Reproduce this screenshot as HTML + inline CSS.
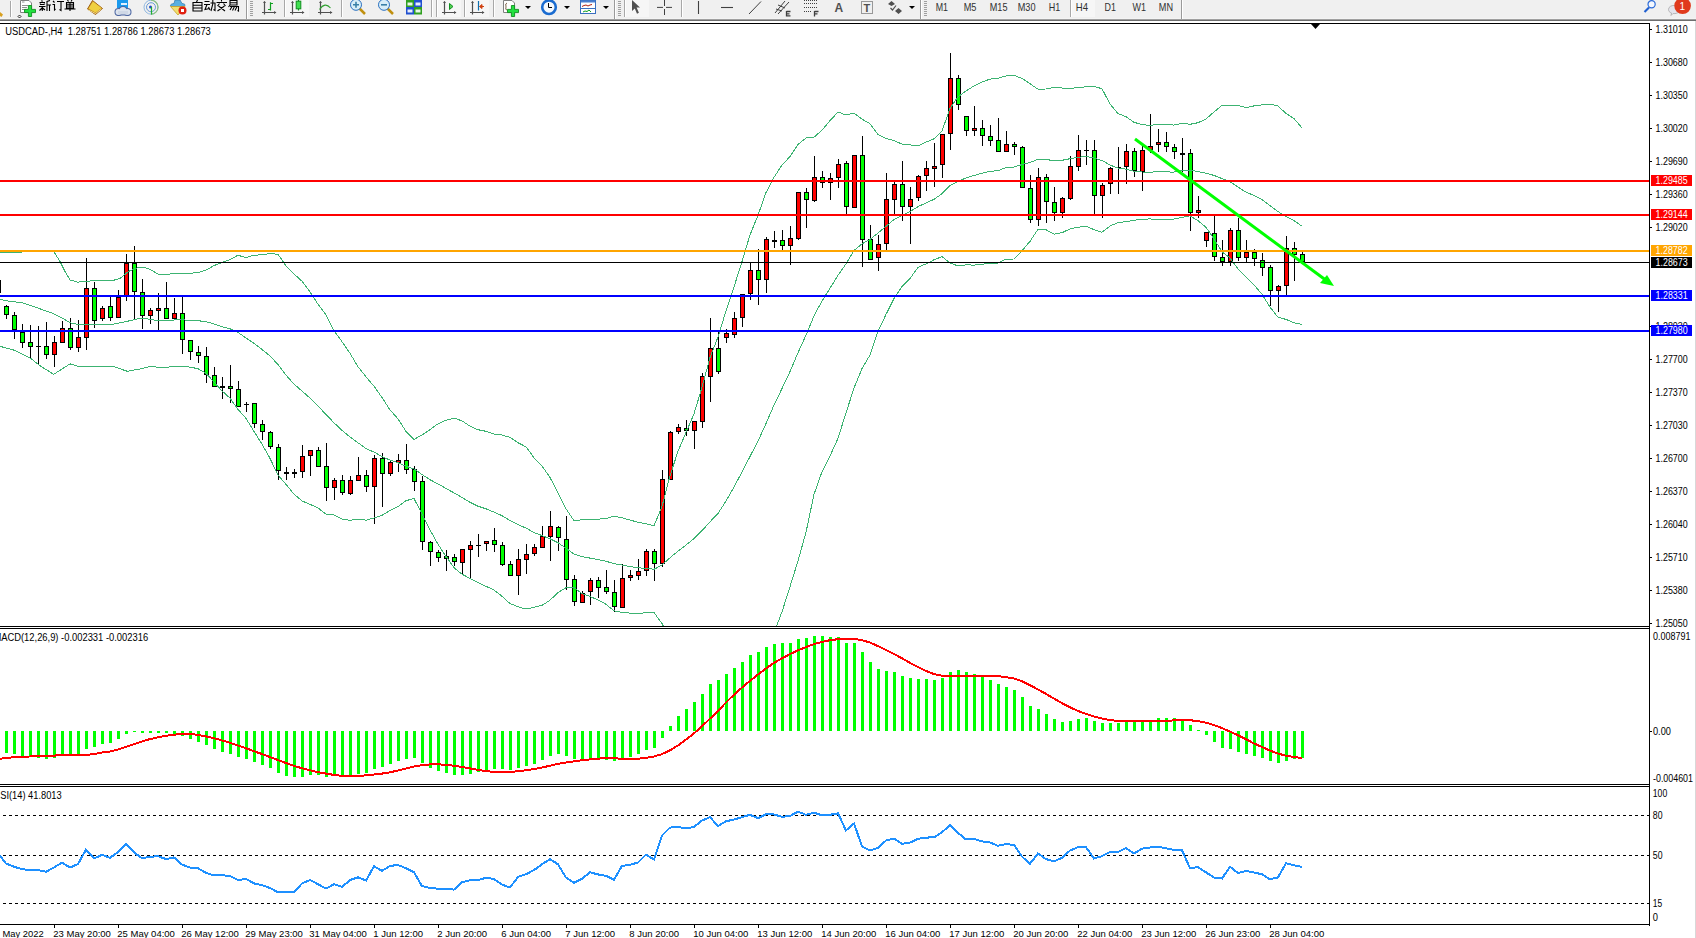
<!DOCTYPE html><html><head><meta charset="utf-8"><style>html,body{margin:0;padding:0;background:#fff;width:1696px;height:938px;overflow:hidden}svg{position:absolute;left:0;top:0;display:block}text{font-family:"Liberation Sans",sans-serif}</style></head><body><svg width="1696" height="938" viewBox="0 0 1696 938"><defs><clipPath id="cm"><rect x="0" y="24" width="1649" height="602"/></clipPath><clipPath id="cd"><rect x="0" y="629" width="1649" height="155"/></clipPath><clipPath id="cr"><rect x="0" y="787" width="1649" height="137"/></clipPath></defs><rect x="0" y="0" width="1696" height="938" fill="#fff"/><rect x="0" y="0" width="1696" height="18" fill="#f0f0f0"/><rect x="0" y="18" width="1696" height="1" fill="#f4f4f4"/><rect x="0" y="19" width="1696" height="1" fill="#a0a0a0"/><rect x="0" y="20" width="1696" height="1" fill="#6e6e6e"/><g id="toolbar"><path d="M0 12L3 14.5L1.5 17L0 16Z" fill="#d8a020"/><rect x="10" y="1" width="1" height="16" fill="#a8a8a8"/><rect x="11" y="1" width="1" height="16" fill="#ffffff"/><path d="M20.5 0.5H29L31.5 3V12.5H20.5Z" fill="#fff" stroke="#808080" stroke-width="1"/><path d="M22 2H24.5M22 5.5H28M22 7.5H27M22 9.5H26" stroke="#909090" stroke-width="1"/><path d="M28.4 5.5H31.6V9.4H35.5V12.6H31.6V16.5H28.4V12.6H24.5V9.4H28.4Z" fill="#22e040" stroke="#10901e" stroke-width="0.9"/><path d="M19.5 15L21 16.5L19.5 18L18 16.5Z" fill="none" stroke="#000" stroke-width="0.8"/><path transform="translate(39,0)" d="M2.5 0.5L3.5 1.5M0.5 2.5H6M1 4.5H5.5M0 6.5H6.5M3.3 6.5V11M3 8L0.5 10.5M3.6 8L6 10M1 3.5L1.5 4.5M5.5 3.5L5 4.5M11 0.5L8 1.5V11M8 5H12M10.5 5V11" stroke="#000" stroke-width="1.1" fill="none"/><path transform="translate(52,0)" d="M1 1L2.5 2.5M0.5 4.5H2.5V10L3.5 9M5 1.5H12M9 1.5V10.5L7.5 9.5" stroke="#000" stroke-width="1.1" fill="none"/><path transform="translate(64,0)" d="M3.5 0L4.5 1.5M8 0L7 1.5M2.5 2.5H9.5V8H2.5Z M2.5 4.2H9.5M2.5 6H9.5M6 2.5V11M0.5 9H11.5" stroke="#000" stroke-width="1.1" fill="none"/><path d="M87.5 9L92.5 0.5L102.5 8.5L95.5 14.5Z" fill="#c89028" stroke="#a06010" stroke-width="1"/><path d="M88.5 8.5L93 1.5L101.5 8L95.5 12.5Z" fill="#f0d040"/><path d="M88.5 10L95.5 13.5L101.5 9" stroke="#f8e8a0" stroke-width="0.8" fill="none"/><rect x="117" y="0" width="11" height="8" fill="#1a9aee"/><rect x="121" y="3" width="6" height="2" fill="#e0f0ff"/><circle cx="118.5" cy="12" r="4" fill="#4a64a0"/><circle cx="123" cy="10.5" r="4.5" fill="#4a64a0"/><circle cx="127.5" cy="12" r="4" fill="#4a64a0"/><rect x="117" y="11" width="12" height="4.5" fill="#4a64a0"/><circle cx="118.5" cy="12" r="3" fill="#dde4ee"/><circle cx="123" cy="10.5" r="3.5" fill="#dde4ee"/><circle cx="127.5" cy="12" r="3" fill="#dde4ee"/><rect x="118" y="11" width="10" height="3.5" fill="#cfd8e6"/><circle cx="151" cy="7.2" r="7" fill="none" stroke="#90b8e0" stroke-width="1"/><circle cx="151" cy="7.2" r="4.5" fill="none" stroke="#6a9ad8" stroke-width="1"/><path d="M151 0.2A7 7 0 0 1 151 14.2" fill="none" stroke="#8cc080" stroke-width="1.2"/><circle cx="150.5" cy="7" r="1.5" fill="#2050c0"/><path d="M151.5 7V14.5" stroke="#20b030" stroke-width="1.2"/><path d="M175 0H180L182 3.5C186 4 186 6 183 6.5H172C169.5 6 170 4 174 3.5Z" fill="#5ab0e0" stroke="#3a80b0" stroke-width="0.8"/><path d="M170.5 6.5H185L178 15Z" fill="#f0e070" stroke="#c8a020" stroke-width="0.8"/><circle cx="182.5" cy="10.5" r="4" fill="#e02010"/><rect x="181" y="9" width="3" height="3" fill="#fff"/><path transform="translate(192,0)" d="M5.5 0L4.5 2M1 2.5H10V11H1Z M1 5.2H10M1 8H10" stroke="#000" stroke-width="1.1" fill="none"/><path transform="translate(204,0)" d="M0.5 1.5H5.5M0 4.5H6M3 4.5L1 9.5L5.5 8.5M4.5 7L6 10M6.5 3H11V10.5L9.5 9.5M8.8 0V4L7 11" stroke="#000" stroke-width="1.1" fill="none"/><path transform="translate(216,0)" d="M5.5 0V1.5M0.5 2.5H11M3.5 3.5L1.5 6M7.5 3.5L9.5 6M2.5 6L9 11M8.5 6L1.5 11" stroke="#000" stroke-width="1.1" fill="none"/><path transform="translate(228,0)" d="M2 0.5H9V5H2Z M2 2.7H9M2 5L0.5 7M2 6.5H10.5V11L9.5 10.5M4 6.5L2 10M6.5 6.5L4.5 10.5M9 6.5L7 10.5" stroke="#000" stroke-width="1.1" fill="none"/><rect x="246" y="0" width="1" height="19" fill="#9a9a9a"/><rect x="247" y="0" width="1" height="19" fill="#ffffff"/><rect x="250" y="1" width="3" height="1" fill="#a0a0a0"/><rect x="250" y="3" width="3" height="1" fill="#a0a0a0"/><rect x="250" y="5" width="3" height="1" fill="#a0a0a0"/><rect x="250" y="7" width="3" height="1" fill="#a0a0a0"/><rect x="250" y="9" width="3" height="1" fill="#a0a0a0"/><rect x="250" y="11" width="3" height="1" fill="#a0a0a0"/><rect x="250" y="13" width="3" height="1" fill="#a0a0a0"/><rect x="250" y="15" width="3" height="1" fill="#a0a0a0"/><path d="M264.5 1.5V14.5M262 12.5H276" stroke="#505050" stroke-width="1.2" fill="none"/><path d="M263 3L264.5 1L266 3Z M274 11L276.5 12.5L274 14Z" fill="#505050"/><path d="M270.5 2.3V10.5M270.5 3.5H273M268 9.5H270.5" stroke="#10a020" stroke-width="1.2" fill="none"/><rect x="284" y="0" width="1" height="17" fill="#a8a8a8"/><rect x="285" y="0" width="1" height="17" fill="#ffffff"/><rect x="286" y="0" width="23" height="17" fill="#f6f6f6"/><path d="M292.5 1.5V14.5M290 12.5H304" stroke="#505050" stroke-width="1.2" fill="none"/><path d="M291 3L292.5 1L294 3Z M302 11L304.5 12.5L302 14Z" fill="#505050"/><path d="M298.5 0V10.5" stroke="#109020" stroke-width="1.2"/><rect x="296.2" y="1.2" width="4.6" height="7.6" fill="#40e050" stroke="#109020" stroke-width="1"/><path d="M320.5 1.5V14.5M318 12.5H332" stroke="#505050" stroke-width="1.2" fill="none"/><path d="M319 3L320.5 1L322 3Z M330 11L332.5 12.5L330 14Z" fill="#505050"/><path d="M319.5 9.5Q325 1.5 330.5 8" stroke="#30a030" stroke-width="1.1" fill="none"/><rect x="341" y="0" width="1" height="17" fill="#a8a8a8"/><rect x="342" y="0" width="1" height="17" fill="#ffffff"/><path d="M359 8L365 14" stroke="#c09010" stroke-width="2.5"/><circle cx="356" cy="4.8" r="5.5" fill="#d8eef8" stroke="#2a70c0" stroke-width="1"/><path d="M353 4.8H359M356 1.8V7.8" stroke="#3a80a8" stroke-width="1.6"/><path d="M387 8L393 14" stroke="#c09010" stroke-width="2.5"/><circle cx="384" cy="4.8" r="5.5" fill="#d8eef8" stroke="#2a70c0" stroke-width="1"/><path d="M381 4.8H387" stroke="#3a80a8" stroke-width="1.6"/><rect x="406" y="0" width="8" height="7.5" fill="#30a020"/><rect x="407.5" y="2.5" width="5" height="3" fill="#fff" opacity="0.9"/><rect x="414" y="0" width="8" height="7.5" fill="#2050d0"/><rect x="415.5" y="2.5" width="5" height="3" fill="#fff" opacity="0.9"/><rect x="406" y="7" width="8" height="7.5" fill="#2050d0"/><rect x="407.5" y="9.5" width="5" height="3" fill="#fff" opacity="0.9"/><rect x="414" y="7" width="8" height="7.5" fill="#30a020"/><rect x="415.5" y="9.5" width="5" height="3" fill="#fff" opacity="0.9"/><rect x="431" y="0" width="1" height="17" fill="#a8a8a8"/><rect x="432" y="0" width="1" height="17" fill="#ffffff"/><rect x="436" y="0" width="1" height="17" fill="#a8a8a8"/><rect x="437" y="0" width="1" height="17" fill="#ffffff"/><rect x="438" y="0" width="23" height="17" fill="#f6f6f6"/><path d="M444.5 1.5V14.5M442 12.5H456" stroke="#505050" stroke-width="1.2" fill="none"/><path d="M443 3L444.5 1L446 3Z M454 11L456.5 12.5L454 14Z" fill="#505050"/><path d="M449.5 3.5L453 6.5L449.5 9.5Z" fill="#50d050" stroke="#109020" stroke-width="1"/><rect x="464" y="0" width="1" height="17" fill="#a8a8a8"/><rect x="465" y="0" width="1" height="17" fill="#ffffff"/><rect x="466" y="0" width="23" height="17" fill="#f6f6f6"/><path d="M472.5 1.5V14.5M470 12.5H484" stroke="#505050" stroke-width="1.2" fill="none"/><path d="M471 3L472.5 1L474 3Z M482 11L484.5 12.5L482 14Z" fill="#505050"/><path d="M478.5 1V10.5" stroke="#1070b0" stroke-width="1.2"/><path d="M479.5 6.5L482 4.5V8.5Z M481 6.5H484" stroke="#d04010" fill="#d04010" stroke-width="1"/><rect x="493" y="0" width="1" height="17" fill="#a8a8a8"/><rect x="494" y="0" width="1" height="17" fill="#ffffff"/><path d="M503.5 0.5H512L514.5 3V12.5H503.5Z" fill="#fff" stroke="#808080" stroke-width="1"/><path d="M507 3Q505 3 506 7Q505 10 507 10" stroke="#604020" stroke-width="0.8" fill="none"/><path d="M511.4 5.5H514.6V9.4H518.5V12.6H514.6V16.5H511.4V12.6H507.5V9.4H511.4Z" fill="#22e040" stroke="#10901e" stroke-width="0.9"/><path d="M525 6H531L528 9Z" fill="#000"/><circle cx="549" cy="7.2" r="6.8" fill="#f4f8fc" stroke="#1a6cd0" stroke-width="2.6"/><path d="M548.5 3V7.5H552" stroke="#000" stroke-width="1" fill="none"/><path d="M564 6H570L567 9Z" fill="#000"/><rect x="580.5" y="0.5" width="15" height="13" fill="#fff" stroke="#3a70c0" stroke-width="1"/><rect x="581" y="0.5" width="14" height="2" fill="#4a80d0"/><rect x="581" y="8" width="14" height="1" fill="#3a70c0"/><path d="M582 6.5L584 5.5L586 5L588 6L590 5L592 4.5" stroke="#b02010" stroke-width="1" fill="none"/><path d="M583 12L585 11L587 11.5L589 10L591 12" stroke="#10a020" stroke-width="1" fill="none"/><path d="M603 6H609L606 9Z" fill="#000"/><rect x="614" y="0" width="1" height="19" fill="#9a9a9a"/><rect x="615" y="0" width="1" height="19" fill="#ffffff"/><rect x="618" y="1" width="3" height="1" fill="#a0a0a0"/><rect x="618" y="3" width="3" height="1" fill="#a0a0a0"/><rect x="618" y="5" width="3" height="1" fill="#a0a0a0"/><rect x="618" y="7" width="3" height="1" fill="#a0a0a0"/><rect x="618" y="9" width="3" height="1" fill="#a0a0a0"/><rect x="618" y="11" width="3" height="1" fill="#a0a0a0"/><rect x="618" y="13" width="3" height="1" fill="#a0a0a0"/><rect x="618" y="15" width="3" height="1" fill="#a0a0a0"/><rect x="624" y="0" width="1" height="17" fill="#a8a8a8"/><rect x="625" y="0" width="1" height="17" fill="#ffffff"/><rect x="626" y="0" width="23" height="17" fill="#f6f6f6"/><path d="M632 0L640 7.4L636.6 7.6L638.9 12.8L637 13.8L634.8 8.6L632 11Z" fill="#505050"/><path d="M657 7.4H663M666 7.4H672M664.5 0V6M664.5 9V15" stroke="#404040" stroke-width="1"/><rect x="681" y="0" width="1" height="17" fill="#a8a8a8"/><rect x="682" y="0" width="1" height="17" fill="#ffffff"/><path d="M698.5 1V14" stroke="#404040" stroke-width="1.1"/><path d="M721 7.5H733" stroke="#404040" stroke-width="1.1"/><path d="M749 14L761 1.5" stroke="#404040" stroke-width="1"/><path d="M775 13L785 1M778 14L789 2M776 9L782 11M778 5L785 8" stroke="#404040" stroke-width="1" fill="none"/><path d="M786.5 11.5H790.5M786.5 11V16.5M786.5 13.8H789.5M786.5 15.8H790.5" stroke="#404040" stroke-width="1.3" fill="none"/><path d="M804 0.5H817M804 3.5H817M804 7.5H817M804 11.5H812" stroke="#404040" stroke-width="1" stroke-dasharray="1,1" fill="none"/><path d="M814.5 11.5H818.5M814.5 11V16.5M814.5 13.8H817.5" stroke="#404040" stroke-width="1.3" fill="none"/><text x="834.5" y="12" font-size="12" font-weight="bold" fill="#505050">A</text><rect x="861.5" y="1.5" width="11" height="12" fill="none" stroke="#404040" stroke-width="1" stroke-dasharray="1,1"/><text x="863.5" y="12" font-size="11" font-weight="bold" fill="#505050">T</text><path d="M888 4L891.5 1L895 4L891.5 6Z M895 11L898.5 8L902 11L898.5 14Z" fill="#505050"/><path d="M890.5 8L892.5 10L896 5.5" stroke="#505050" stroke-width="1.2" fill="none"/><path d="M909 6H915L912 9Z" fill="#000"/><rect x="920" y="0" width="1" height="19" fill="#9a9a9a"/><rect x="921" y="0" width="1" height="19" fill="#ffffff"/><rect x="924" y="1" width="3" height="1" fill="#a0a0a0"/><rect x="924" y="3" width="3" height="1" fill="#a0a0a0"/><rect x="924" y="5" width="3" height="1" fill="#a0a0a0"/><rect x="924" y="7" width="3" height="1" fill="#a0a0a0"/><rect x="924" y="9" width="3" height="1" fill="#a0a0a0"/><rect x="924" y="11" width="3" height="1" fill="#a0a0a0"/><rect x="924" y="13" width="3" height="1" fill="#a0a0a0"/><rect x="924" y="15" width="3" height="1" fill="#a0a0a0"/><text x="935.7" y="11.2" font-size="10.2" fill="#303030" textLength="12.3" lengthAdjust="spacingAndGlyphs">M1</text><text x="963.7" y="11.2" font-size="10.2" fill="#303030" textLength="12.8" lengthAdjust="spacingAndGlyphs">M5</text><text x="989.8" y="11.2" font-size="10.2" fill="#303030" textLength="17.7" lengthAdjust="spacingAndGlyphs">M15</text><text x="1017.7" y="11.2" font-size="10.2" fill="#303030" textLength="17.8" lengthAdjust="spacingAndGlyphs">M30</text><text x="1048.8" y="11.2" font-size="10.2" fill="#303030" textLength="11.5" lengthAdjust="spacingAndGlyphs">H1</text><rect x="1070" y="0" width="1" height="17" fill="#a8a8a8"/><rect x="1071" y="0" width="1" height="17" fill="#ffffff"/><rect x="1072" y="0" width="23" height="17" fill="#f6f6f6"/><text x="1075.8" y="11.2" font-size="10.2" fill="#303030" textLength="12.2" lengthAdjust="spacingAndGlyphs">H4</text><text x="1104.6" y="11.2" font-size="10.2" fill="#303030" textLength="11.4" lengthAdjust="spacingAndGlyphs">D1</text><text x="1132.5" y="11.2" font-size="10.2" fill="#303030" textLength="13.5" lengthAdjust="spacingAndGlyphs">W1</text><text x="1158.8" y="11.2" font-size="10.2" fill="#303030" textLength="14.2" lengthAdjust="spacingAndGlyphs">MN</text><rect x="1181" y="0" width="1" height="19" fill="#9a9a9a"/><rect x="1182" y="0" width="1" height="19" fill="#ffffff"/><path d="M1649 7.5L1644.5 12" stroke="#2060d0" stroke-width="2.2"/><circle cx="1651.6" cy="4.3" r="3.6" fill="#f4f8ff" stroke="#2a6ad8" stroke-width="1.2"/><path d="M1668.5 9.5C1668.5 4 1680 4 1680 9.5C1680 13 1675 14 1673 13.5L1671 15.5L1671.5 13C1669.5 12.5 1668.5 11 1668.5 9.5Z" fill="#e4e4ec" stroke="#a8a8a8" stroke-width="0.8"/><circle cx="1682.6" cy="5.8" r="8.3" fill="#e03a1c"/><text x="1679.5" y="10" font-size="10" font-family="Liberation Serif" fill="#fff">1</text></g><rect x="0" y="23" width="1650" height="1" fill="#000"/><rect x="1649" y="23" width="1" height="903" fill="#000"/><rect x="0" y="626" width="1650" height="1" fill="#000"/><rect x="0" y="628" width="1650" height="1" fill="#000"/><rect x="0" y="784" width="1650" height="1" fill="#000"/><rect x="0" y="786" width="1650" height="1" fill="#000"/><rect x="0" y="924" width="1650" height="1" fill="#000"/><rect x="1695" y="21" width="1" height="917" fill="#d8d8d8"/><g shape-rendering="crispEdges"><rect x="-2" y="276" width="1" height="20" fill="#000"/><rect x="-4" y="280" width="5" height="13" fill="#000"/><rect x="-3" y="281" width="3" height="11" fill="#00ff00"/><rect x="6" y="305" width="1" height="14" fill="#000"/><rect x="4" y="306" width="5" height="9" fill="#000"/><rect x="5" y="307" width="3" height="7" fill="#00ff00"/><rect x="14" y="312" width="1" height="27" fill="#000"/><rect x="12" y="315" width="5" height="15" fill="#000"/><rect x="13" y="316" width="3" height="13" fill="#00ff00"/><rect x="22" y="324" width="1" height="24" fill="#000"/><rect x="20" y="332" width="5" height="11" fill="#000"/><rect x="21" y="333" width="3" height="9" fill="#00ff00"/><rect x="30" y="325" width="1" height="33" fill="#000"/><rect x="28" y="342" width="5" height="5" fill="#000"/><rect x="29" y="343" width="3" height="3" fill="#00ff00"/><rect x="38" y="326" width="1" height="38" fill="#000"/><rect x="36" y="346" width="5" height="1" fill="#000"/><rect x="46" y="322" width="1" height="37" fill="#000"/><rect x="44" y="346" width="5" height="9" fill="#000"/><rect x="45" y="347" width="3" height="7" fill="#00ff00"/><rect x="54" y="336" width="1" height="31" fill="#000"/><rect x="52" y="342" width="5" height="13" fill="#000"/><rect x="53" y="343" width="3" height="11" fill="#ff0000"/><rect x="62" y="321" width="1" height="22" fill="#000"/><rect x="60" y="328" width="5" height="15" fill="#000"/><rect x="61" y="329" width="3" height="13" fill="#ff0000"/><rect x="70" y="318" width="1" height="32" fill="#000"/><rect x="68" y="328" width="5" height="20" fill="#000"/><rect x="69" y="329" width="3" height="18" fill="#00ff00"/><rect x="78" y="320" width="1" height="32" fill="#000"/><rect x="76" y="337" width="5" height="11" fill="#000"/><rect x="77" y="338" width="3" height="9" fill="#ff0000"/><rect x="86" y="258" width="1" height="92" fill="#000"/><rect x="84" y="288" width="5" height="50" fill="#000"/><rect x="85" y="289" width="3" height="48" fill="#ff0000"/><rect x="94" y="282" width="1" height="46" fill="#000"/><rect x="92" y="288" width="5" height="33" fill="#000"/><rect x="93" y="289" width="3" height="31" fill="#00ff00"/><rect x="102" y="306" width="1" height="15" fill="#000"/><rect x="100" y="308" width="5" height="11" fill="#000"/><rect x="101" y="309" width="3" height="9" fill="#ff0000"/><rect x="110" y="297" width="1" height="24" fill="#000"/><rect x="108" y="306" width="5" height="12" fill="#000"/><rect x="109" y="307" width="3" height="10" fill="#00ff00"/><rect x="118" y="290" width="1" height="28" fill="#000"/><rect x="116" y="297" width="5" height="21" fill="#000"/><rect x="117" y="298" width="3" height="19" fill="#ff0000"/><rect x="126" y="254" width="1" height="47" fill="#000"/><rect x="124" y="263" width="5" height="34" fill="#000"/><rect x="125" y="264" width="3" height="32" fill="#ff0000"/><rect x="134" y="246" width="1" height="73" fill="#000"/><rect x="132" y="263" width="5" height="29" fill="#000"/><rect x="133" y="264" width="3" height="27" fill="#00ff00"/><rect x="142" y="279" width="1" height="50" fill="#000"/><rect x="140" y="292" width="5" height="24" fill="#000"/><rect x="141" y="293" width="3" height="22" fill="#00ff00"/><rect x="150" y="308" width="1" height="16" fill="#000"/><rect x="148" y="310" width="5" height="6" fill="#000"/><rect x="149" y="311" width="3" height="4" fill="#ff0000"/><rect x="158" y="293" width="1" height="37" fill="#000"/><rect x="156" y="308" width="5" height="3" fill="#000"/><rect x="157" y="309" width="3" height="1" fill="#ff0000"/><rect x="166" y="282" width="1" height="37" fill="#000"/><rect x="164" y="308" width="5" height="11" fill="#000"/><rect x="165" y="309" width="3" height="9" fill="#00ff00"/><rect x="174" y="298" width="1" height="21" fill="#000"/><rect x="172" y="313" width="5" height="6" fill="#000"/><rect x="173" y="314" width="3" height="4" fill="#ff0000"/><rect x="182" y="297" width="1" height="57" fill="#000"/><rect x="180" y="313" width="5" height="27" fill="#000"/><rect x="181" y="314" width="3" height="25" fill="#00ff00"/><rect x="190" y="340" width="1" height="20" fill="#000"/><rect x="188" y="340" width="5" height="12" fill="#000"/><rect x="189" y="341" width="3" height="10" fill="#00ff00"/><rect x="198" y="346" width="1" height="17" fill="#000"/><rect x="196" y="352" width="5" height="4" fill="#000"/><rect x="197" y="353" width="3" height="2" fill="#00ff00"/><rect x="206" y="347" width="1" height="36" fill="#000"/><rect x="204" y="356" width="5" height="19" fill="#000"/><rect x="205" y="357" width="3" height="17" fill="#00ff00"/><rect x="214" y="367" width="1" height="20" fill="#000"/><rect x="212" y="375" width="5" height="12" fill="#000"/><rect x="213" y="376" width="3" height="10" fill="#00ff00"/><rect x="222" y="377" width="1" height="22" fill="#000"/><rect x="220" y="386" width="5" height="2" fill="#000"/><rect x="230" y="365" width="1" height="38" fill="#000"/><rect x="228" y="386" width="5" height="3" fill="#000"/><rect x="229" y="387" width="3" height="1" fill="#00ff00"/><rect x="238" y="381" width="1" height="26" fill="#000"/><rect x="236" y="389" width="5" height="18" fill="#000"/><rect x="237" y="390" width="3" height="16" fill="#00ff00"/><rect x="246" y="402" width="1" height="10" fill="#000"/><rect x="244" y="404" width="5" height="1" fill="#000"/><rect x="254" y="403" width="1" height="25" fill="#000"/><rect x="252" y="403" width="5" height="21" fill="#000"/><rect x="253" y="404" width="3" height="19" fill="#00ff00"/><rect x="262" y="420" width="1" height="20" fill="#000"/><rect x="260" y="424" width="5" height="8" fill="#000"/><rect x="261" y="425" width="3" height="6" fill="#00ff00"/><rect x="270" y="431" width="1" height="18" fill="#000"/><rect x="268" y="432" width="5" height="15" fill="#000"/><rect x="269" y="433" width="3" height="13" fill="#00ff00"/><rect x="278" y="444" width="1" height="36" fill="#000"/><rect x="276" y="447" width="5" height="24" fill="#000"/><rect x="277" y="448" width="3" height="22" fill="#00ff00"/><rect x="286" y="467" width="1" height="13" fill="#000"/><rect x="284" y="472" width="5" height="2" fill="#000"/><rect x="294" y="469" width="1" height="9" fill="#000"/><rect x="292" y="472" width="5" height="2" fill="#000"/><rect x="302" y="445" width="1" height="33" fill="#000"/><rect x="300" y="456" width="5" height="16" fill="#000"/><rect x="301" y="457" width="3" height="14" fill="#ff0000"/><rect x="310" y="450" width="1" height="26" fill="#000"/><rect x="308" y="450" width="5" height="6" fill="#000"/><rect x="309" y="451" width="3" height="4" fill="#ff0000"/><rect x="318" y="447" width="1" height="20" fill="#000"/><rect x="316" y="450" width="5" height="17" fill="#000"/><rect x="317" y="451" width="3" height="15" fill="#00ff00"/><rect x="326" y="443" width="1" height="58" fill="#000"/><rect x="324" y="466" width="5" height="22" fill="#000"/><rect x="325" y="467" width="3" height="20" fill="#00ff00"/><rect x="334" y="478" width="1" height="22" fill="#000"/><rect x="332" y="480" width="5" height="8" fill="#000"/><rect x="333" y="481" width="3" height="6" fill="#ff0000"/><rect x="342" y="475" width="1" height="20" fill="#000"/><rect x="340" y="480" width="5" height="13" fill="#000"/><rect x="341" y="481" width="3" height="11" fill="#00ff00"/><rect x="350" y="476" width="1" height="19" fill="#000"/><rect x="348" y="480" width="5" height="14" fill="#000"/><rect x="349" y="481" width="3" height="12" fill="#ff0000"/><rect x="358" y="457" width="1" height="24" fill="#000"/><rect x="356" y="475" width="5" height="6" fill="#000"/><rect x="357" y="476" width="3" height="4" fill="#ff0000"/><rect x="366" y="470" width="1" height="22" fill="#000"/><rect x="364" y="475" width="5" height="12" fill="#000"/><rect x="365" y="476" width="3" height="10" fill="#00ff00"/><rect x="374" y="455" width="1" height="69" fill="#000"/><rect x="372" y="458" width="5" height="29" fill="#000"/><rect x="373" y="459" width="3" height="27" fill="#ff0000"/><rect x="382" y="453" width="1" height="54" fill="#000"/><rect x="380" y="458" width="5" height="16" fill="#000"/><rect x="381" y="459" width="3" height="14" fill="#00ff00"/><rect x="390" y="461" width="1" height="15" fill="#000"/><rect x="388" y="462" width="5" height="12" fill="#000"/><rect x="389" y="463" width="3" height="10" fill="#ff0000"/><rect x="398" y="454" width="1" height="18" fill="#000"/><rect x="396" y="460" width="5" height="3" fill="#000"/><rect x="397" y="461" width="3" height="1" fill="#ff0000"/><rect x="406" y="444" width="1" height="30" fill="#000"/><rect x="404" y="460" width="5" height="10" fill="#000"/><rect x="405" y="461" width="3" height="8" fill="#00ff00"/><rect x="414" y="466" width="1" height="25" fill="#000"/><rect x="412" y="469" width="5" height="13" fill="#000"/><rect x="413" y="470" width="3" height="11" fill="#00ff00"/><rect x="422" y="476" width="1" height="74" fill="#000"/><rect x="420" y="481" width="5" height="61" fill="#000"/><rect x="421" y="482" width="3" height="59" fill="#00ff00"/><rect x="430" y="541" width="1" height="25" fill="#000"/><rect x="428" y="542" width="5" height="10" fill="#000"/><rect x="429" y="543" width="3" height="8" fill="#00ff00"/><rect x="438" y="550" width="1" height="12" fill="#000"/><rect x="436" y="552" width="5" height="6" fill="#000"/><rect x="437" y="553" width="3" height="4" fill="#00ff00"/><rect x="446" y="550" width="1" height="21" fill="#000"/><rect x="444" y="556" width="5" height="3" fill="#000"/><rect x="445" y="557" width="3" height="1" fill="#00ff00"/><rect x="454" y="554" width="1" height="12" fill="#000"/><rect x="452" y="557" width="5" height="5" fill="#000"/><rect x="453" y="558" width="3" height="3" fill="#00ff00"/><rect x="462" y="549" width="1" height="25" fill="#000"/><rect x="460" y="549" width="5" height="14" fill="#000"/><rect x="461" y="550" width="3" height="12" fill="#ff0000"/><rect x="470" y="541" width="1" height="37" fill="#000"/><rect x="468" y="545" width="5" height="5" fill="#000"/><rect x="469" y="546" width="3" height="3" fill="#ff0000"/><rect x="478" y="534" width="1" height="23" fill="#000"/><rect x="476" y="545" width="5" height="1" fill="#000"/><rect x="486" y="541" width="1" height="10" fill="#000"/><rect x="484" y="541" width="5" height="3" fill="#000"/><rect x="485" y="542" width="3" height="1" fill="#ff0000"/><rect x="494" y="528" width="1" height="24" fill="#000"/><rect x="492" y="540" width="5" height="5" fill="#000"/><rect x="493" y="541" width="3" height="3" fill="#00ff00"/><rect x="502" y="542" width="1" height="24" fill="#000"/><rect x="500" y="545" width="5" height="20" fill="#000"/><rect x="501" y="546" width="3" height="18" fill="#00ff00"/><rect x="510" y="561" width="1" height="15" fill="#000"/><rect x="508" y="564" width="5" height="12" fill="#000"/><rect x="509" y="565" width="3" height="10" fill="#00ff00"/><rect x="518" y="549" width="1" height="46" fill="#000"/><rect x="516" y="559" width="5" height="17" fill="#000"/><rect x="517" y="560" width="3" height="15" fill="#ff0000"/><rect x="526" y="544" width="1" height="30" fill="#000"/><rect x="524" y="554" width="5" height="6" fill="#000"/><rect x="525" y="555" width="3" height="4" fill="#ff0000"/><rect x="534" y="544" width="1" height="12" fill="#000"/><rect x="532" y="547" width="5" height="7" fill="#000"/><rect x="533" y="548" width="3" height="5" fill="#ff0000"/><rect x="542" y="526" width="1" height="22" fill="#000"/><rect x="540" y="536" width="5" height="12" fill="#000"/><rect x="541" y="537" width="3" height="10" fill="#ff0000"/><rect x="550" y="511" width="1" height="50" fill="#000"/><rect x="548" y="526" width="5" height="11" fill="#000"/><rect x="549" y="527" width="3" height="9" fill="#ff0000"/><rect x="558" y="526" width="1" height="25" fill="#000"/><rect x="556" y="527" width="5" height="11" fill="#000"/><rect x="557" y="528" width="3" height="9" fill="#00ff00"/><rect x="566" y="516" width="1" height="74" fill="#000"/><rect x="564" y="539" width="5" height="41" fill="#000"/><rect x="565" y="540" width="3" height="39" fill="#00ff00"/><rect x="574" y="575" width="1" height="31" fill="#000"/><rect x="572" y="579" width="5" height="23" fill="#000"/><rect x="573" y="580" width="3" height="21" fill="#00ff00"/><rect x="582" y="591" width="1" height="12" fill="#000"/><rect x="580" y="593" width="5" height="10" fill="#000"/><rect x="581" y="594" width="3" height="8" fill="#ff0000"/><rect x="590" y="578" width="1" height="27" fill="#000"/><rect x="588" y="580" width="5" height="12" fill="#000"/><rect x="589" y="581" width="3" height="10" fill="#ff0000"/><rect x="598" y="577" width="1" height="21" fill="#000"/><rect x="596" y="580" width="5" height="8" fill="#000"/><rect x="597" y="581" width="3" height="6" fill="#00ff00"/><rect x="606" y="570" width="1" height="24" fill="#000"/><rect x="604" y="587" width="5" height="5" fill="#000"/><rect x="605" y="588" width="3" height="3" fill="#00ff00"/><rect x="614" y="580" width="1" height="32" fill="#000"/><rect x="612" y="592" width="5" height="15" fill="#000"/><rect x="613" y="593" width="3" height="13" fill="#00ff00"/><rect x="622" y="564" width="1" height="44" fill="#000"/><rect x="620" y="578" width="5" height="30" fill="#000"/><rect x="621" y="579" width="3" height="28" fill="#ff0000"/><rect x="630" y="570" width="1" height="11" fill="#000"/><rect x="628" y="575" width="5" height="3" fill="#000"/><rect x="629" y="576" width="3" height="1" fill="#ff0000"/><rect x="638" y="559" width="1" height="21" fill="#000"/><rect x="636" y="571" width="5" height="5" fill="#000"/><rect x="637" y="572" width="3" height="3" fill="#ff0000"/><rect x="646" y="549" width="1" height="27" fill="#000"/><rect x="644" y="551" width="5" height="20" fill="#000"/><rect x="645" y="552" width="3" height="18" fill="#ff0000"/><rect x="654" y="549" width="1" height="32" fill="#000"/><rect x="652" y="551" width="5" height="13" fill="#000"/><rect x="653" y="552" width="3" height="11" fill="#00ff00"/><rect x="662" y="470" width="1" height="97" fill="#000"/><rect x="660" y="479" width="5" height="85" fill="#000"/><rect x="661" y="480" width="3" height="83" fill="#ff0000"/><rect x="670" y="431" width="1" height="49" fill="#000"/><rect x="668" y="432" width="5" height="48" fill="#000"/><rect x="669" y="433" width="3" height="46" fill="#ff0000"/><rect x="678" y="424" width="1" height="10" fill="#000"/><rect x="676" y="427" width="5" height="5" fill="#000"/><rect x="677" y="428" width="3" height="3" fill="#ff0000"/><rect x="686" y="420" width="1" height="16" fill="#000"/><rect x="684" y="428" width="5" height="3" fill="#000"/><rect x="685" y="429" width="3" height="1" fill="#00ff00"/><rect x="694" y="421" width="1" height="28" fill="#000"/><rect x="692" y="421" width="5" height="10" fill="#000"/><rect x="693" y="422" width="3" height="8" fill="#ff0000"/><rect x="702" y="373" width="1" height="55" fill="#000"/><rect x="700" y="376" width="5" height="46" fill="#000"/><rect x="701" y="377" width="3" height="44" fill="#ff0000"/><rect x="710" y="318" width="1" height="84" fill="#000"/><rect x="708" y="348" width="5" height="29" fill="#000"/><rect x="709" y="349" width="3" height="27" fill="#ff0000"/><rect x="718" y="332" width="1" height="42" fill="#000"/><rect x="716" y="348" width="5" height="24" fill="#000"/><rect x="717" y="349" width="3" height="22" fill="#00ff00"/><rect x="726" y="329" width="1" height="14" fill="#000"/><rect x="724" y="333" width="5" height="5" fill="#000"/><rect x="725" y="334" width="3" height="3" fill="#ff0000"/><rect x="734" y="312" width="1" height="26" fill="#000"/><rect x="732" y="318" width="5" height="17" fill="#000"/><rect x="733" y="319" width="3" height="15" fill="#ff0000"/><rect x="742" y="294" width="1" height="33" fill="#000"/><rect x="740" y="294" width="5" height="24" fill="#000"/><rect x="741" y="295" width="3" height="22" fill="#ff0000"/><rect x="750" y="263" width="1" height="37" fill="#000"/><rect x="748" y="270" width="5" height="24" fill="#000"/><rect x="749" y="271" width="3" height="22" fill="#ff0000"/><rect x="758" y="249" width="1" height="56" fill="#000"/><rect x="756" y="270" width="5" height="10" fill="#000"/><rect x="757" y="271" width="3" height="8" fill="#00ff00"/><rect x="766" y="237" width="1" height="56" fill="#000"/><rect x="764" y="239" width="5" height="41" fill="#000"/><rect x="765" y="240" width="3" height="39" fill="#ff0000"/><rect x="774" y="231" width="1" height="17" fill="#000"/><rect x="772" y="240" width="5" height="2" fill="#000"/><rect x="782" y="230" width="1" height="20" fill="#000"/><rect x="780" y="240" width="5" height="6" fill="#000"/><rect x="781" y="241" width="3" height="4" fill="#00ff00"/><rect x="790" y="226" width="1" height="39" fill="#000"/><rect x="788" y="238" width="5" height="8" fill="#000"/><rect x="789" y="239" width="3" height="6" fill="#ff0000"/><rect x="798" y="192" width="1" height="48" fill="#000"/><rect x="796" y="192" width="5" height="47" fill="#000"/><rect x="797" y="193" width="3" height="45" fill="#ff0000"/><rect x="806" y="188" width="1" height="40" fill="#000"/><rect x="804" y="192" width="5" height="8" fill="#000"/><rect x="805" y="193" width="3" height="6" fill="#00ff00"/><rect x="814" y="156" width="1" height="46" fill="#000"/><rect x="812" y="177" width="5" height="24" fill="#000"/><rect x="813" y="178" width="3" height="22" fill="#ff0000"/><rect x="822" y="171" width="1" height="17" fill="#000"/><rect x="820" y="177" width="5" height="6" fill="#000"/><rect x="821" y="178" width="3" height="4" fill="#00ff00"/><rect x="830" y="173" width="1" height="27" fill="#000"/><rect x="828" y="178" width="5" height="5" fill="#000"/><rect x="829" y="179" width="3" height="3" fill="#ff0000"/><rect x="838" y="159" width="1" height="29" fill="#000"/><rect x="836" y="164" width="5" height="14" fill="#000"/><rect x="837" y="165" width="3" height="12" fill="#ff0000"/><rect x="846" y="161" width="1" height="53" fill="#000"/><rect x="844" y="163" width="5" height="44" fill="#000"/><rect x="845" y="164" width="3" height="42" fill="#00ff00"/><rect x="854" y="155" width="1" height="53" fill="#000"/><rect x="852" y="155" width="5" height="53" fill="#000"/><rect x="853" y="156" width="3" height="51" fill="#ff0000"/><rect x="862" y="136" width="1" height="131" fill="#000"/><rect x="860" y="155" width="5" height="85" fill="#000"/><rect x="861" y="156" width="3" height="83" fill="#00ff00"/><rect x="870" y="225" width="1" height="35" fill="#000"/><rect x="868" y="239" width="5" height="21" fill="#000"/><rect x="869" y="240" width="3" height="19" fill="#00ff00"/><rect x="878" y="235" width="1" height="36" fill="#000"/><rect x="876" y="244" width="5" height="14" fill="#000"/><rect x="877" y="245" width="3" height="12" fill="#ff0000"/><rect x="886" y="173" width="1" height="77" fill="#000"/><rect x="884" y="199" width="5" height="45" fill="#000"/><rect x="885" y="200" width="3" height="43" fill="#ff0000"/><rect x="894" y="182" width="1" height="32" fill="#000"/><rect x="892" y="184" width="5" height="16" fill="#000"/><rect x="893" y="185" width="3" height="14" fill="#ff0000"/><rect x="902" y="161" width="1" height="60" fill="#000"/><rect x="900" y="184" width="5" height="23" fill="#000"/><rect x="901" y="185" width="3" height="21" fill="#00ff00"/><rect x="910" y="187" width="1" height="57" fill="#000"/><rect x="908" y="199" width="5" height="8" fill="#000"/><rect x="909" y="200" width="3" height="6" fill="#ff0000"/><rect x="918" y="175" width="1" height="26" fill="#000"/><rect x="916" y="176" width="5" height="22" fill="#000"/><rect x="917" y="177" width="3" height="20" fill="#ff0000"/><rect x="926" y="161" width="1" height="30" fill="#000"/><rect x="924" y="168" width="5" height="8" fill="#000"/><rect x="925" y="169" width="3" height="6" fill="#ff0000"/><rect x="934" y="143" width="1" height="44" fill="#000"/><rect x="932" y="166" width="5" height="3" fill="#000"/><rect x="933" y="167" width="3" height="1" fill="#ff0000"/><rect x="942" y="134" width="1" height="44" fill="#000"/><rect x="940" y="134" width="5" height="31" fill="#000"/><rect x="941" y="135" width="3" height="29" fill="#ff0000"/><rect x="950" y="53" width="1" height="97" fill="#000"/><rect x="948" y="78" width="5" height="56" fill="#000"/><rect x="949" y="79" width="3" height="54" fill="#ff0000"/><rect x="958" y="75" width="1" height="35" fill="#000"/><rect x="956" y="78" width="5" height="27" fill="#000"/><rect x="957" y="79" width="3" height="25" fill="#00ff00"/><rect x="966" y="116" width="1" height="20" fill="#000"/><rect x="964" y="116" width="5" height="15" fill="#000"/><rect x="965" y="117" width="3" height="13" fill="#00ff00"/><rect x="974" y="106" width="1" height="30" fill="#000"/><rect x="972" y="128" width="5" height="3" fill="#000"/><rect x="973" y="129" width="3" height="1" fill="#ff0000"/><rect x="982" y="120" width="1" height="26" fill="#000"/><rect x="980" y="128" width="5" height="8" fill="#000"/><rect x="981" y="129" width="3" height="6" fill="#00ff00"/><rect x="990" y="125" width="1" height="21" fill="#000"/><rect x="988" y="136" width="5" height="5" fill="#000"/><rect x="989" y="137" width="3" height="3" fill="#00ff00"/><rect x="998" y="118" width="1" height="34" fill="#000"/><rect x="996" y="140" width="5" height="12" fill="#000"/><rect x="997" y="141" width="3" height="10" fill="#00ff00"/><rect x="1006" y="131" width="1" height="21" fill="#000"/><rect x="1004" y="144" width="5" height="8" fill="#000"/><rect x="1005" y="145" width="3" height="6" fill="#ff0000"/><rect x="1014" y="142" width="1" height="13" fill="#000"/><rect x="1012" y="144" width="5" height="3" fill="#000"/><rect x="1013" y="145" width="3" height="1" fill="#00ff00"/><rect x="1022" y="146" width="1" height="42" fill="#000"/><rect x="1020" y="147" width="5" height="41" fill="#000"/><rect x="1021" y="148" width="3" height="39" fill="#00ff00"/><rect x="1030" y="175" width="1" height="48" fill="#000"/><rect x="1028" y="188" width="5" height="32" fill="#000"/><rect x="1029" y="189" width="3" height="30" fill="#00ff00"/><rect x="1038" y="168" width="1" height="58" fill="#000"/><rect x="1036" y="177" width="5" height="43" fill="#000"/><rect x="1037" y="178" width="3" height="41" fill="#ff0000"/><rect x="1046" y="174" width="1" height="49" fill="#000"/><rect x="1044" y="177" width="5" height="25" fill="#000"/><rect x="1045" y="178" width="3" height="23" fill="#00ff00"/><rect x="1054" y="187" width="1" height="34" fill="#000"/><rect x="1052" y="202" width="5" height="11" fill="#000"/><rect x="1053" y="203" width="3" height="9" fill="#00ff00"/><rect x="1062" y="197" width="1" height="21" fill="#000"/><rect x="1060" y="198" width="5" height="15" fill="#000"/><rect x="1061" y="199" width="3" height="13" fill="#ff0000"/><rect x="1070" y="156" width="1" height="44" fill="#000"/><rect x="1068" y="166" width="5" height="33" fill="#000"/><rect x="1069" y="167" width="3" height="31" fill="#ff0000"/><rect x="1078" y="135" width="1" height="36" fill="#000"/><rect x="1076" y="150" width="5" height="17" fill="#000"/><rect x="1077" y="151" width="3" height="15" fill="#ff0000"/><rect x="1086" y="140" width="1" height="25" fill="#000"/><rect x="1084" y="150" width="5" height="1" fill="#000"/><rect x="1094" y="140" width="1" height="74" fill="#000"/><rect x="1092" y="150" width="5" height="46" fill="#000"/><rect x="1093" y="151" width="3" height="44" fill="#00ff00"/><rect x="1102" y="183" width="1" height="35" fill="#000"/><rect x="1100" y="185" width="5" height="11" fill="#000"/><rect x="1101" y="186" width="3" height="9" fill="#ff0000"/><rect x="1110" y="167" width="1" height="27" fill="#000"/><rect x="1108" y="168" width="5" height="16" fill="#000"/><rect x="1109" y="169" width="3" height="14" fill="#ff0000"/><rect x="1118" y="147" width="1" height="47" fill="#000"/><rect x="1116" y="167" width="5" height="1" fill="#000"/><rect x="1126" y="144" width="1" height="40" fill="#000"/><rect x="1124" y="151" width="5" height="16" fill="#000"/><rect x="1125" y="152" width="3" height="14" fill="#ff0000"/><rect x="1134" y="148" width="1" height="29" fill="#000"/><rect x="1132" y="151" width="5" height="20" fill="#000"/><rect x="1133" y="152" width="3" height="18" fill="#00ff00"/><rect x="1142" y="146" width="1" height="45" fill="#000"/><rect x="1140" y="150" width="5" height="22" fill="#000"/><rect x="1141" y="151" width="3" height="20" fill="#ff0000"/><rect x="1150" y="114" width="1" height="39" fill="#000"/><rect x="1148" y="146" width="5" height="4" fill="#000"/><rect x="1149" y="147" width="3" height="2" fill="#ff0000"/><rect x="1158" y="129" width="1" height="23" fill="#000"/><rect x="1156" y="142" width="5" height="3" fill="#000"/><rect x="1157" y="143" width="3" height="1" fill="#ff0000"/><rect x="1166" y="132" width="1" height="20" fill="#000"/><rect x="1164" y="142" width="5" height="5" fill="#000"/><rect x="1165" y="143" width="3" height="3" fill="#00ff00"/><rect x="1174" y="144" width="1" height="15" fill="#000"/><rect x="1172" y="147" width="5" height="5" fill="#000"/><rect x="1173" y="148" width="3" height="3" fill="#00ff00"/><rect x="1182" y="138" width="1" height="34" fill="#000"/><rect x="1180" y="153" width="5" height="2" fill="#000"/><rect x="1190" y="149" width="1" height="82" fill="#000"/><rect x="1188" y="153" width="5" height="60" fill="#000"/><rect x="1189" y="154" width="3" height="58" fill="#00ff00"/><rect x="1198" y="196" width="1" height="22" fill="#000"/><rect x="1196" y="210" width="5" height="3" fill="#000"/><rect x="1197" y="211" width="3" height="1" fill="#ff0000"/><rect x="1206" y="232" width="1" height="15" fill="#000"/><rect x="1204" y="232" width="5" height="9" fill="#000"/><rect x="1205" y="233" width="3" height="7" fill="#ff0000"/><rect x="1214" y="216" width="1" height="45" fill="#000"/><rect x="1212" y="233" width="5" height="24" fill="#000"/><rect x="1213" y="234" width="3" height="22" fill="#00ff00"/><rect x="1222" y="240" width="1" height="26" fill="#000"/><rect x="1220" y="257" width="5" height="5" fill="#000"/><rect x="1221" y="258" width="3" height="3" fill="#00ff00"/><rect x="1230" y="228" width="1" height="38" fill="#000"/><rect x="1228" y="230" width="5" height="32" fill="#000"/><rect x="1229" y="231" width="3" height="30" fill="#ff0000"/><rect x="1238" y="218" width="1" height="43" fill="#000"/><rect x="1236" y="230" width="5" height="28" fill="#000"/><rect x="1237" y="231" width="3" height="26" fill="#00ff00"/><rect x="1246" y="240" width="1" height="22" fill="#000"/><rect x="1244" y="252" width="5" height="6" fill="#000"/><rect x="1245" y="253" width="3" height="4" fill="#ff0000"/><rect x="1254" y="249" width="1" height="17" fill="#000"/><rect x="1252" y="252" width="5" height="7" fill="#000"/><rect x="1253" y="253" width="3" height="5" fill="#00ff00"/><rect x="1262" y="253" width="1" height="23" fill="#000"/><rect x="1260" y="260" width="5" height="8" fill="#000"/><rect x="1261" y="261" width="3" height="6" fill="#00ff00"/><rect x="1270" y="265" width="1" height="41" fill="#000"/><rect x="1268" y="267" width="5" height="24" fill="#000"/><rect x="1269" y="268" width="3" height="22" fill="#00ff00"/><rect x="1278" y="285" width="1" height="27" fill="#000"/><rect x="1276" y="286" width="5" height="5" fill="#000"/><rect x="1277" y="287" width="3" height="3" fill="#ff0000"/><rect x="1286" y="236" width="1" height="59" fill="#000"/><rect x="1284" y="248" width="5" height="38" fill="#000"/><rect x="1285" y="249" width="3" height="36" fill="#ff0000"/><rect x="1294" y="242" width="1" height="39" fill="#000"/><rect x="1292" y="248" width="5" height="7" fill="#000"/><rect x="1293" y="249" width="3" height="5" fill="#00ff00"/><rect x="1302" y="252" width="1" height="10" fill="#000"/><rect x="1300" y="254" width="5" height="8" fill="#000"/><rect x="1301" y="255" width="3" height="6" fill="#00ff00"/></g><g clip-path="url(#cm)"><polyline points="0.0,252.5 18.0,253.0 26.0,251.0 53.0,250.5 59.7,260.9 65.7,272.8 70.1,280.0 77.6,282.1 90.0,281.0 112.4,280.6 119.9,278.5 128.8,271.3 137.8,267.6 143.7,267.2 149.7,269.1 158.0,274.2 166.0,274.4 174.0,273.6 182.0,273.7 190.0,273.3 198.0,272.6 206.0,270.1 214.0,265.6 222.0,262.5 230.0,259.6 238.0,255.2 246.0,257.7 254.0,255.1 262.0,254.9 270.0,253.5 278.0,254.3 286.0,265.8 294.0,273.9 302.0,281.2 310.0,291.9 318.0,304.2 326.0,314.8 334.0,330.7 342.0,341.7 350.0,353.3 358.0,366.7 366.0,376.8 374.0,386.2 382.0,397.5 390.0,409.9 398.0,418.9 406.0,431.4 414.0,439.4 422.0,435.0 430.0,429.6 438.0,423.8 446.0,420.3 454.0,418.1 462.0,420.9 470.0,426.2 478.0,429.7 486.0,431.3 494.0,434.1 502.0,435.0 510.0,437.4 518.0,442.7 526.0,446.9 534.0,457.7 542.0,465.9 550.0,477.4 558.0,493.0 566.0,508.8 574.0,520.8 582.0,519.7 590.0,519.8 598.0,519.2 606.0,518.5 614.0,516.3 622.0,517.8 630.0,520.0 638.0,522.3 646.0,523.8 654.0,525.9 662.0,506.4 670.0,475.8 678.0,451.3 686.0,432.4 694.0,413.8 702.0,387.2 710.0,357.6 718.0,337.0 726.0,311.0 734.0,286.9 742.0,261.6 750.0,234.9 758.0,215.3 766.0,192.6 774.0,177.3 782.0,165.1 790.0,156.5 798.0,144.5 806.0,138.0 814.0,137.2 822.0,130.2 830.0,120.7 838.0,112.0 846.0,115.0 854.0,113.2 862.0,119.1 870.0,123.8 878.0,134.5 886.0,138.3 894.0,140.7 902.0,144.1 910.0,144.9 918.0,145.8 926.0,142.1 934.0,138.8 942.0,130.9 950.0,108.5 958.0,96.7 966.0,91.0 974.0,85.9 982.0,82.1 990.0,79.1 998.0,78.2 1006.0,76.0 1014.0,75.3 1022.0,78.4 1030.0,83.7 1038.0,89.2 1046.0,89.0 1054.0,87.4 1062.0,88.0 1070.0,88.5 1078.0,87.6 1086.0,86.8 1094.0,86.3 1102.0,88.8 1110.0,104.0 1118.0,113.6 1126.0,116.7 1134.0,122.3 1142.0,124.6 1150.0,125.5 1158.0,124.0 1166.0,124.4 1174.0,125.1 1182.0,123.3 1190.0,124.3 1198.0,122.7 1206.0,119.0 1214.0,112.0 1222.0,105.3 1230.0,105.5 1238.0,105.4 1246.0,107.7 1254.0,105.9 1262.0,104.9 1270.0,104.2 1278.0,106.0 1286.0,113.5 1294.0,118.5 1302.0,128.0" fill="none" stroke="#3cb371" stroke-width="1" shape-rendering="crispEdges"/><polyline points="0.0,299.4 9.0,301.2 22.4,302.7 37.3,307.9 52.2,313.1 62.7,318.4 70.1,322.8 77.6,324.3 100.0,324.3 112.4,324.3 127.3,321.3 139.3,318.4 149.7,319.1 158.0,320.7 166.0,320.9 174.0,320.0 182.0,319.9 190.0,320.2 198.0,320.7 206.0,321.7 214.0,323.9 222.0,326.7 230.0,328.8 238.0,332.3 246.0,338.1 254.0,343.3 262.0,349.5 270.0,355.9 278.0,364.6 286.0,375.1 294.0,384.1 302.0,391.1 310.0,398.1 318.0,406.0 326.0,414.5 334.0,422.8 342.0,430.4 350.0,436.9 358.0,442.8 366.0,448.5 374.0,452.1 382.0,456.5 390.0,460.1 398.0,462.8 406.0,466.1 414.0,469.0 422.0,474.5 430.0,479.7 438.0,484.0 446.0,488.4 454.0,492.9 462.0,497.5 470.0,502.3 478.0,506.2 486.0,508.8 494.0,512.1 502.0,515.7 510.0,520.5 518.0,524.7 526.0,528.0 534.0,532.5 542.0,535.6 550.0,538.8 558.0,542.7 566.0,548.2 574.0,554.2 582.0,556.7 590.0,558.1 598.0,559.6 606.0,561.3 614.0,563.6 622.0,565.0 630.0,566.5 638.0,567.8 646.0,568.3 654.0,569.3 662.0,565.0 670.0,557.8 678.0,551.1 686.0,545.0 694.0,538.7 702.0,530.7 710.0,521.8 718.0,513.4 726.0,501.1 734.0,486.9 742.0,472.0 750.0,456.5 758.0,441.1 766.0,423.5 774.0,405.1 782.0,388.5 790.0,371.6 798.0,352.7 806.0,335.2 814.0,315.8 822.0,301.0 830.0,288.3 838.0,275.2 846.0,263.9 854.0,250.6 862.0,243.8 870.0,239.4 878.0,233.0 886.0,226.3 894.0,219.6 902.0,215.3 910.0,211.7 918.0,206.6 926.0,203.0 934.0,199.3 942.0,193.7 950.0,185.7 958.0,181.4 966.0,177.9 974.0,175.5 982.0,173.2 990.0,171.3 998.0,170.7 1006.0,167.5 1014.0,167.1 1022.0,164.5 1030.0,162.6 1038.0,159.2 1046.0,159.4 1054.0,160.8 1062.0,160.3 1070.0,158.7 1078.0,157.4 1086.0,156.5 1094.0,158.0 1102.0,160.5 1110.0,165.0 1118.0,168.1 1126.0,169.1 1134.0,171.3 1142.0,172.0 1150.0,172.2 1158.0,171.7 1166.0,171.9 1174.0,172.1 1182.0,170.3 1190.0,170.0 1198.0,171.7 1206.0,173.2 1214.0,175.4 1222.0,178.6 1230.0,181.7 1238.0,187.1 1246.0,192.2 1254.0,195.4 1262.0,199.5 1270.0,205.7 1278.0,211.6 1286.0,216.4 1294.0,220.6 1302.0,226.2" fill="none" stroke="#3cb371" stroke-width="1" shape-rendering="crispEdges"/><polyline points="0.0,346.3 14.9,350.4 29.9,357.9 41.8,366.9 53.7,374.3 70.1,363.9 77.6,366.1 100.0,366.9 112.4,366.1 127.3,371.3 139.3,369.1 149.7,366.5 158.0,367.2 166.0,367.4 174.0,366.4 182.0,366.1 190.0,367.1 198.0,368.7 206.0,373.2 214.0,382.1 222.0,390.9 230.0,398.1 238.0,409.4 246.0,418.4 254.0,431.4 262.0,444.1 270.0,458.4 278.0,475.0 286.0,484.4 294.0,494.2 302.0,500.9 310.0,504.3 318.0,507.9 326.0,514.2 334.0,514.9 342.0,519.1 350.0,520.4 358.0,519.0 366.0,520.2 374.0,518.0 382.0,515.4 390.0,510.4 398.0,506.7 406.0,500.7 414.0,498.5 422.0,514.0 430.0,529.9 438.0,544.3 446.0,556.4 454.0,567.7 462.0,574.2 470.0,578.4 478.0,582.7 486.0,586.3 494.0,590.0 502.0,596.3 510.0,603.6 518.0,606.7 526.0,609.1 534.0,607.3 542.0,605.4 550.0,600.2 558.0,592.5 566.0,587.7 574.0,587.6 582.0,593.7 590.0,596.4 598.0,600.0 606.0,604.2 614.0,610.9 622.0,612.3 630.0,613.1 638.0,613.3 646.0,612.8 654.0,612.6 662.0,623.5 670.0,639.7 678.0,650.9 686.0,657.6 694.0,663.5 702.0,674.2 710.0,685.9 718.0,689.8 726.0,691.2 734.0,687.0 742.0,682.4 750.0,678.1 758.0,666.9 766.0,654.3 774.0,632.9 782.0,611.8 790.0,586.7 798.0,560.9 806.0,532.3 814.0,494.3 822.0,471.8 830.0,455.9 838.0,438.3 846.0,412.9 854.0,388.1 862.0,368.6 870.0,355.0 878.0,331.5 886.0,314.4 894.0,298.6 902.0,286.5 910.0,278.5 918.0,267.3 926.0,263.9 934.0,259.8 942.0,256.6 950.0,262.9 958.0,266.0 966.0,264.8 974.0,265.1 982.0,264.2 990.0,263.4 998.0,263.1 1006.0,259.1 1014.0,259.0 1022.0,250.7 1030.0,241.4 1038.0,229.2 1046.0,229.7 1054.0,234.2 1062.0,232.7 1070.0,228.9 1078.0,227.2 1086.0,226.2 1094.0,229.6 1102.0,232.2 1110.0,226.0 1118.0,222.6 1126.0,221.6 1134.0,220.3 1142.0,219.3 1150.0,218.9 1158.0,219.5 1166.0,219.3 1174.0,219.1 1182.0,217.4 1190.0,215.8 1198.0,220.7 1206.0,227.3 1214.0,238.8 1222.0,251.8 1230.0,258.0 1238.0,268.8 1246.0,276.8 1254.0,284.9 1262.0,294.2 1270.0,307.1 1278.0,317.3 1286.0,319.4 1294.0,322.7 1302.0,324.5" fill="none" stroke="#3cb371" stroke-width="1" shape-rendering="crispEdges"/></g><g shape-rendering="crispEdges"><rect x="0" y="180" width="1649" height="2" fill="#ff0000"/><rect x="0" y="214" width="1649" height="2" fill="#ff0000"/><rect x="0" y="250" width="1649" height="2" fill="#ffa500"/><rect x="0" y="262" width="1649" height="1" fill="#000000"/><rect x="0" y="295" width="1649" height="2" fill="#0000ff"/><rect x="0" y="330" width="1649" height="2" fill="#0000ff"/></g><line x1="1135" y1="139" x2="1327" y2="281" stroke="#00ff00" stroke-width="3"/><polygon points="1334,286 1320,283 1327,275" fill="#00ff00"/><polygon points="1311,24 1320,24 1315.5,29" fill="#000"/><rect x="1650" y="29" width="2" height="1" fill="#000"/><text x="1655.5" y="33" font-size="10" fill="#000" textLength="32.2" lengthAdjust="spacingAndGlyphs" xml:space="preserve">1.31010</text><rect x="1650" y="62" width="2" height="1" fill="#000"/><text x="1655.5" y="66" font-size="10" fill="#000" textLength="32.2" lengthAdjust="spacingAndGlyphs" xml:space="preserve">1.30680</text><rect x="1650" y="95" width="2" height="1" fill="#000"/><text x="1655.5" y="99" font-size="10" fill="#000" textLength="32.2" lengthAdjust="spacingAndGlyphs" xml:space="preserve">1.30350</text><rect x="1650" y="128" width="2" height="1" fill="#000"/><text x="1655.5" y="132" font-size="10" fill="#000" textLength="32.2" lengthAdjust="spacingAndGlyphs" xml:space="preserve">1.30020</text><rect x="1650" y="161" width="2" height="1" fill="#000"/><text x="1655.5" y="165" font-size="10" fill="#000" textLength="32.2" lengthAdjust="spacingAndGlyphs" xml:space="preserve">1.29690</text><rect x="1650" y="194" width="2" height="1" fill="#000"/><text x="1655.5" y="198" font-size="10" fill="#000" textLength="32.2" lengthAdjust="spacingAndGlyphs" xml:space="preserve">1.29360</text><rect x="1650" y="227" width="2" height="1" fill="#000"/><text x="1655.5" y="231" font-size="10" fill="#000" textLength="32.2" lengthAdjust="spacingAndGlyphs" xml:space="preserve">1.29020</text><rect x="1650" y="326" width="2" height="1" fill="#000"/><text x="1655.5" y="330" font-size="10" fill="#000" textLength="32.2" lengthAdjust="spacingAndGlyphs" xml:space="preserve">1.28030</text><rect x="1650" y="359" width="2" height="1" fill="#000"/><text x="1655.5" y="363" font-size="10" fill="#000" textLength="32.2" lengthAdjust="spacingAndGlyphs" xml:space="preserve">1.27700</text><rect x="1650" y="392" width="2" height="1" fill="#000"/><text x="1655.5" y="396" font-size="10" fill="#000" textLength="32.2" lengthAdjust="spacingAndGlyphs" xml:space="preserve">1.27370</text><rect x="1650" y="425" width="2" height="1" fill="#000"/><text x="1655.5" y="429" font-size="10" fill="#000" textLength="32.2" lengthAdjust="spacingAndGlyphs" xml:space="preserve">1.27030</text><rect x="1650" y="458" width="2" height="1" fill="#000"/><text x="1655.5" y="462" font-size="10" fill="#000" textLength="32.2" lengthAdjust="spacingAndGlyphs" xml:space="preserve">1.26700</text><rect x="1650" y="491" width="2" height="1" fill="#000"/><text x="1655.5" y="495" font-size="10" fill="#000" textLength="32.2" lengthAdjust="spacingAndGlyphs" xml:space="preserve">1.26370</text><rect x="1650" y="524" width="2" height="1" fill="#000"/><text x="1655.5" y="528" font-size="10" fill="#000" textLength="32.2" lengthAdjust="spacingAndGlyphs" xml:space="preserve">1.26040</text><rect x="1650" y="557" width="2" height="1" fill="#000"/><text x="1655.5" y="561" font-size="10" fill="#000" textLength="32.2" lengthAdjust="spacingAndGlyphs" xml:space="preserve">1.25710</text><rect x="1650" y="590" width="2" height="1" fill="#000"/><text x="1655.5" y="594" font-size="10" fill="#000" textLength="32.2" lengthAdjust="spacingAndGlyphs" xml:space="preserve">1.25380</text><rect x="1650" y="623" width="2" height="1" fill="#000"/><text x="1655.5" y="627" font-size="10" fill="#000" textLength="32.2" lengthAdjust="spacingAndGlyphs" xml:space="preserve">1.25050</text><rect x="1651" y="175" width="41" height="11" fill="#ff0000"/><text x="1655.5" y="184" font-size="10" fill="#fff" textLength="32.2" lengthAdjust="spacingAndGlyphs" xml:space="preserve">1.29485</text><rect x="1651" y="209" width="41" height="11" fill="#ff0000"/><text x="1655.5" y="218" font-size="10" fill="#fff" textLength="32.2" lengthAdjust="spacingAndGlyphs" xml:space="preserve">1.29144</text><rect x="1651" y="245" width="41" height="11" fill="#ffa500"/><text x="1655.5" y="254" font-size="10" fill="#fff" textLength="32.2" lengthAdjust="spacingAndGlyphs" xml:space="preserve">1.28782</text><rect x="1651" y="257" width="41" height="11" fill="#000000"/><text x="1655.5" y="266" font-size="10" fill="#fff" textLength="32.2" lengthAdjust="spacingAndGlyphs" xml:space="preserve">1.28673</text><rect x="1651" y="290" width="41" height="11" fill="#0000ff"/><text x="1655.5" y="299" font-size="10" fill="#fff" textLength="32.2" lengthAdjust="spacingAndGlyphs" xml:space="preserve">1.28331</text><rect x="1651" y="325" width="41" height="11" fill="#0000ff"/><text x="1655.5" y="334" font-size="10" fill="#fff" textLength="32.2" lengthAdjust="spacingAndGlyphs" xml:space="preserve">1.27980</text><text x="5.3" y="35" font-size="10" fill="#000" textLength="205.5" lengthAdjust="spacingAndGlyphs" xml:space="preserve">USDCAD-,H4  1.28751 1.28786 1.28673 1.28673</text><g shape-rendering="crispEdges"><rect x="5" y="731" width="3" height="22" fill="#00ff00"/><rect x="13" y="731" width="3" height="23" fill="#00ff00"/><rect x="21" y="731" width="3" height="25" fill="#00ff00"/><rect x="29" y="731" width="3" height="26" fill="#00ff00"/><rect x="37" y="731" width="3" height="27" fill="#00ff00"/><rect x="45" y="731" width="3" height="28" fill="#00ff00"/><rect x="53" y="731" width="3" height="27" fill="#00ff00"/><rect x="61" y="731" width="3" height="25" fill="#00ff00"/><rect x="69" y="731" width="3" height="25" fill="#00ff00"/><rect x="77" y="731" width="3" height="23" fill="#00ff00"/><rect x="85" y="731" width="3" height="18" fill="#00ff00"/><rect x="93" y="731" width="3" height="16" fill="#00ff00"/><rect x="101" y="731" width="3" height="13" fill="#00ff00"/><rect x="109" y="731" width="3" height="12" fill="#00ff00"/><rect x="117" y="731" width="3" height="8" fill="#00ff00"/><rect x="125" y="731" width="3" height="3" fill="#00ff00"/><rect x="133" y="731" width="3" height="1" fill="#00ff00"/><rect x="141" y="731" width="3" height="2" fill="#00ff00"/><rect x="149" y="731" width="3" height="2" fill="#00ff00"/><rect x="157" y="731" width="3" height="2" fill="#00ff00"/><rect x="165" y="731" width="3" height="2" fill="#00ff00"/><rect x="173" y="731" width="3" height="3" fill="#00ff00"/><rect x="181" y="731" width="3" height="5" fill="#00ff00"/><rect x="189" y="731" width="3" height="8" fill="#00ff00"/><rect x="197" y="731" width="3" height="11" fill="#00ff00"/><rect x="205" y="731" width="3" height="14" fill="#00ff00"/><rect x="213" y="731" width="3" height="18" fill="#00ff00"/><rect x="221" y="731" width="3" height="21" fill="#00ff00"/><rect x="229" y="731" width="3" height="23" fill="#00ff00"/><rect x="237" y="731" width="3" height="26" fill="#00ff00"/><rect x="245" y="731" width="3" height="28" fill="#00ff00"/><rect x="253" y="731" width="3" height="31" fill="#00ff00"/><rect x="261" y="731" width="3" height="34" fill="#00ff00"/><rect x="269" y="731" width="3" height="37" fill="#00ff00"/><rect x="277" y="731" width="3" height="42" fill="#00ff00"/><rect x="285" y="731" width="3" height="45" fill="#00ff00"/><rect x="293" y="731" width="3" height="46" fill="#00ff00"/><rect x="301" y="731" width="3" height="46" fill="#00ff00"/><rect x="309" y="731" width="3" height="44" fill="#00ff00"/><rect x="317" y="731" width="3" height="44" fill="#00ff00"/><rect x="325" y="731" width="3" height="46" fill="#00ff00"/><rect x="333" y="731" width="3" height="45" fill="#00ff00"/><rect x="341" y="731" width="3" height="46" fill="#00ff00"/><rect x="349" y="731" width="3" height="45" fill="#00ff00"/><rect x="357" y="731" width="3" height="43" fill="#00ff00"/><rect x="365" y="731" width="3" height="42" fill="#00ff00"/><rect x="373" y="731" width="3" height="38" fill="#00ff00"/><rect x="381" y="731" width="3" height="36" fill="#00ff00"/><rect x="389" y="731" width="3" height="33" fill="#00ff00"/><rect x="397" y="731" width="3" height="30" fill="#00ff00"/><rect x="405" y="731" width="3" height="28" fill="#00ff00"/><rect x="413" y="731" width="3" height="27" fill="#00ff00"/><rect x="421" y="731" width="3" height="32" fill="#00ff00"/><rect x="429" y="731" width="3" height="37" fill="#00ff00"/><rect x="437" y="731" width="3" height="40" fill="#00ff00"/><rect x="445" y="731" width="3" height="42" fill="#00ff00"/><rect x="453" y="731" width="3" height="44" fill="#00ff00"/><rect x="461" y="731" width="3" height="44" fill="#00ff00"/><rect x="469" y="731" width="3" height="43" fill="#00ff00"/><rect x="477" y="731" width="3" height="41" fill="#00ff00"/><rect x="485" y="731" width="3" height="39" fill="#00ff00"/><rect x="493" y="731" width="3" height="38" fill="#00ff00"/><rect x="501" y="731" width="3" height="38" fill="#00ff00"/><rect x="509" y="731" width="3" height="39" fill="#00ff00"/><rect x="517" y="731" width="3" height="37" fill="#00ff00"/><rect x="525" y="731" width="3" height="35" fill="#00ff00"/><rect x="533" y="731" width="3" height="33" fill="#00ff00"/><rect x="541" y="731" width="3" height="29" fill="#00ff00"/><rect x="549" y="731" width="3" height="25" fill="#00ff00"/><rect x="557" y="731" width="3" height="23" fill="#00ff00"/><rect x="565" y="731" width="3" height="25" fill="#00ff00"/><rect x="573" y="731" width="3" height="28" fill="#00ff00"/><rect x="581" y="731" width="3" height="29" fill="#00ff00"/><rect x="589" y="731" width="3" height="29" fill="#00ff00"/><rect x="597" y="731" width="3" height="29" fill="#00ff00"/><rect x="605" y="731" width="3" height="29" fill="#00ff00"/><rect x="613" y="731" width="3" height="30" fill="#00ff00"/><rect x="621" y="731" width="3" height="28" fill="#00ff00"/><rect x="629" y="731" width="3" height="26" fill="#00ff00"/><rect x="637" y="731" width="3" height="23" fill="#00ff00"/><rect x="645" y="731" width="3" height="19" fill="#00ff00"/><rect x="653" y="731" width="3" height="17" fill="#00ff00"/><rect x="661" y="731" width="3" height="7" fill="#00ff00"/><rect x="669" y="726" width="3" height="5" fill="#00ff00"/><rect x="677" y="716" width="3" height="15" fill="#00ff00"/><rect x="685" y="709" width="3" height="22" fill="#00ff00"/><rect x="693" y="702" width="3" height="29" fill="#00ff00"/><rect x="701" y="694" width="3" height="37" fill="#00ff00"/><rect x="709" y="684" width="3" height="47" fill="#00ff00"/><rect x="717" y="680" width="3" height="51" fill="#00ff00"/><rect x="725" y="674" width="3" height="57" fill="#00ff00"/><rect x="733" y="668" width="3" height="63" fill="#00ff00"/><rect x="741" y="662" width="3" height="69" fill="#00ff00"/><rect x="749" y="655" width="3" height="76" fill="#00ff00"/><rect x="757" y="652" width="3" height="79" fill="#00ff00"/><rect x="765" y="647" width="3" height="84" fill="#00ff00"/><rect x="773" y="644" width="3" height="87" fill="#00ff00"/><rect x="781" y="643" width="3" height="88" fill="#00ff00"/><rect x="789" y="643" width="3" height="88" fill="#00ff00"/><rect x="797" y="639" width="3" height="92" fill="#00ff00"/><rect x="805" y="638" width="3" height="93" fill="#00ff00"/><rect x="813" y="636" width="3" height="95" fill="#00ff00"/><rect x="821" y="636" width="3" height="95" fill="#00ff00"/><rect x="829" y="637" width="3" height="94" fill="#00ff00"/><rect x="837" y="637" width="3" height="94" fill="#00ff00"/><rect x="845" y="643" width="3" height="88" fill="#00ff00"/><rect x="853" y="643" width="3" height="88" fill="#00ff00"/><rect x="861" y="652" width="3" height="79" fill="#00ff00"/><rect x="869" y="662" width="3" height="69" fill="#00ff00"/><rect x="877" y="669" width="3" height="62" fill="#00ff00"/><rect x="885" y="671" width="3" height="60" fill="#00ff00"/><rect x="893" y="672" width="3" height="59" fill="#00ff00"/><rect x="901" y="676" width="3" height="55" fill="#00ff00"/><rect x="909" y="678" width="3" height="53" fill="#00ff00"/><rect x="917" y="679" width="3" height="52" fill="#00ff00"/><rect x="925" y="679" width="3" height="52" fill="#00ff00"/><rect x="933" y="680" width="3" height="51" fill="#00ff00"/><rect x="941" y="678" width="3" height="53" fill="#00ff00"/><rect x="949" y="672" width="3" height="59" fill="#00ff00"/><rect x="957" y="670" width="3" height="61" fill="#00ff00"/><rect x="965" y="672" width="3" height="59" fill="#00ff00"/><rect x="973" y="674" width="3" height="57" fill="#00ff00"/><rect x="981" y="677" width="3" height="54" fill="#00ff00"/><rect x="989" y="680" width="3" height="51" fill="#00ff00"/><rect x="997" y="684" width="3" height="47" fill="#00ff00"/><rect x="1005" y="687" width="3" height="44" fill="#00ff00"/><rect x="1013" y="690" width="3" height="41" fill="#00ff00"/><rect x="1021" y="697" width="3" height="34" fill="#00ff00"/><rect x="1029" y="706" width="3" height="25" fill="#00ff00"/><rect x="1037" y="709" width="3" height="22" fill="#00ff00"/><rect x="1045" y="714" width="3" height="17" fill="#00ff00"/><rect x="1053" y="719" width="3" height="12" fill="#00ff00"/><rect x="1061" y="722" width="3" height="9" fill="#00ff00"/><rect x="1069" y="721" width="3" height="10" fill="#00ff00"/><rect x="1077" y="719" width="3" height="12" fill="#00ff00"/><rect x="1085" y="718" width="3" height="13" fill="#00ff00"/><rect x="1093" y="721" width="3" height="10" fill="#00ff00"/><rect x="1101" y="723" width="3" height="8" fill="#00ff00"/><rect x="1109" y="723" width="3" height="8" fill="#00ff00"/><rect x="1117" y="723" width="3" height="8" fill="#00ff00"/><rect x="1125" y="721" width="3" height="10" fill="#00ff00"/><rect x="1133" y="722" width="3" height="9" fill="#00ff00"/><rect x="1141" y="721" width="3" height="10" fill="#00ff00"/><rect x="1149" y="720" width="3" height="11" fill="#00ff00"/><rect x="1157" y="718" width="3" height="13" fill="#00ff00"/><rect x="1165" y="718" width="3" height="13" fill="#00ff00"/><rect x="1173" y="718" width="3" height="13" fill="#00ff00"/><rect x="1181" y="719" width="3" height="12" fill="#00ff00"/><rect x="1189" y="725" width="3" height="6" fill="#00ff00"/><rect x="1197" y="730" width="3" height="1" fill="#00ff00"/><rect x="1205" y="731" width="3" height="4" fill="#00ff00"/><rect x="1213" y="731" width="3" height="11" fill="#00ff00"/><rect x="1221" y="731" width="3" height="17" fill="#00ff00"/><rect x="1229" y="731" width="3" height="18" fill="#00ff00"/><rect x="1237" y="731" width="3" height="21" fill="#00ff00"/><rect x="1245" y="731" width="3" height="23" fill="#00ff00"/><rect x="1253" y="731" width="3" height="25" fill="#00ff00"/><rect x="1261" y="731" width="3" height="27" fill="#00ff00"/><rect x="1269" y="731" width="3" height="30" fill="#00ff00"/><rect x="1277" y="731" width="3" height="32" fill="#00ff00"/><rect x="1285" y="731" width="3" height="30" fill="#00ff00"/><rect x="1293" y="731" width="3" height="28" fill="#00ff00"/><rect x="1301" y="731" width="3" height="27" fill="#00ff00"/></g><polyline points="0.0,758.7 6.0,758.1 14.0,757.1 22.0,756.7 30.0,756.5 38.0,756.3 46.0,755.7 54.0,755.7 62.0,754.7 70.0,754.9 78.0,755.3 86.0,754.9 94.0,754.1 102.0,752.5 110.0,751.6 118.0,749.5 126.0,746.8 134.0,744.1 142.0,741.5 150.0,739.1 158.0,737.3 166.0,735.8 174.0,734.7 182.0,734.0 190.0,733.9 198.0,734.9 206.0,736.4 214.0,738.2 222.0,740.4 230.0,742.8 238.0,745.5 246.0,748.3 254.0,751.2 262.0,754.1 270.0,757.1 278.0,760.1 286.0,763.0 294.0,765.8 302.0,768.3 310.0,770.3 318.0,772.1 326.0,773.6 334.0,774.9 342.0,775.8 350.0,776.2 358.0,775.9 366.0,775.4 374.0,774.5 382.0,773.6 390.0,772.3 398.0,770.5 406.0,768.6 414.0,766.5 422.0,765.1 430.0,764.4 438.0,764.3 446.0,764.8 454.0,765.7 462.0,767.0 470.0,768.4 478.0,769.9 486.0,771.2 494.0,771.8 502.0,772.0 510.0,771.8 518.0,771.3 526.0,770.3 534.0,769.0 542.0,767.5 550.0,765.7 558.0,763.9 566.0,762.5 574.0,761.3 582.0,760.3 590.0,759.4 598.0,758.6 606.0,758.2 614.0,758.3 622.0,758.7 630.0,759.0 638.0,758.8 646.0,757.8 654.0,756.5 662.0,754.1 670.0,750.3 678.0,745.4 686.0,739.6 694.0,733.3 702.0,726.3 710.0,718.6 718.0,710.8 726.0,702.5 734.0,694.7 742.0,687.6 750.0,680.8 758.0,674.6 766.0,668.4 774.0,662.9 782.0,658.3 790.0,654.1 798.0,650.3 806.0,647.0 814.0,644.1 822.0,642.0 830.0,640.2 838.0,639.2 846.0,639.0 854.0,639.0 862.0,640.1 870.0,642.6 878.0,646.1 886.0,650.0 894.0,654.0 902.0,658.3 910.0,662.9 918.0,666.9 926.0,671.0 934.0,674.0 942.0,675.8 950.0,676.1 958.0,676.0 966.0,676.0 974.0,675.7 982.0,675.6 990.0,675.7 998.0,676.2 1006.0,677.1 1014.0,678.5 1022.0,681.3 1030.0,685.3 1038.0,689.4 1046.0,693.9 1054.0,698.6 1062.0,703.2 1070.0,707.3 1078.0,710.9 1086.0,713.9 1094.0,716.6 1102.0,718.5 1110.0,720.0 1118.0,721.0 1126.0,721.2 1134.0,721.2 1142.0,721.2 1150.0,721.2 1158.0,721.3 1166.0,720.9 1174.0,720.4 1182.0,720.0 1190.0,720.2 1198.0,721.2 1206.0,722.6 1214.0,725.0 1222.0,728.1 1230.0,731.5 1238.0,735.3 1246.0,739.3 1254.0,743.4 1262.0,747.0 1270.0,750.5 1278.0,753.6 1286.0,755.7 1294.0,757.0 1302.0,758.0" fill="none" stroke="#ff0000" stroke-width="2" shape-rendering="crispEdges"/><text x="-6.6" y="641" font-size="10" fill="#000" textLength="154.7" lengthAdjust="spacingAndGlyphs" xml:space="preserve">MACD(12,26,9) -0.002331 -0.002316</text><text x="1653" y="639.5" font-size="10" fill="#000" textLength="37.5" lengthAdjust="spacingAndGlyphs" xml:space="preserve">0.008791</text><rect x="1650" y="731" width="2" height="1" fill="#000"/><text x="1653" y="735" font-size="10" fill="#000" textLength="17.9" lengthAdjust="spacingAndGlyphs" xml:space="preserve">0.00</text><text x="1653" y="782" font-size="10" fill="#000" textLength="40.0" lengthAdjust="spacingAndGlyphs" xml:space="preserve">-0.004601</text><line x1="3" y1="815.5" x2="1649" y2="815.5" stroke="#000" stroke-width="1" stroke-dasharray="3,3"/><line x1="3" y1="855.5" x2="1649" y2="855.5" stroke="#000" stroke-width="1" stroke-dasharray="3,3"/><line x1="3" y1="903.5" x2="1649" y2="903.5" stroke="#000" stroke-width="1" stroke-dasharray="3,3"/><polyline points="0.0,855.8 6.0,863.6 14.0,866.7 22.0,869.2 30.0,870.0 38.0,870.0 46.0,871.8 54.0,867.4 62.0,862.6 70.0,867.6 78.0,864.0 86.0,849.6 94.0,858.4 102.0,854.9 110.0,857.8 118.0,852.1 126.0,844.2 134.0,852.4 142.0,858.3 150.0,856.8 158.0,856.2 166.0,859.1 174.0,857.4 182.0,864.6 190.0,867.5 198.0,868.3 206.0,872.9 214.0,875.5 222.0,875.2 230.0,876.0 238.0,880.1 246.0,878.9 254.0,883.4 262.0,885.1 270.0,888.0 278.0,892.3 286.0,892.3 294.0,892.3 302.0,883.4 310.0,880.0 318.0,884.2 326.0,888.6 334.0,884.2 342.0,886.9 350.0,880.1 358.0,877.3 366.0,880.6 374.0,866.2 382.0,870.9 390.0,865.9 398.0,865.0 406.0,868.2 414.0,872.2 422.0,886.1 430.0,887.9 438.0,888.7 446.0,888.9 454.0,889.6 462.0,882.3 470.0,880.2 478.0,880.2 486.0,877.7 494.0,879.0 502.0,884.6 510.0,887.5 518.0,876.9 526.0,874.2 534.0,870.1 542.0,864.3 550.0,859.1 558.0,864.3 566.0,877.6 574.0,882.8 582.0,878.7 590.0,872.3 598.0,874.4 606.0,875.8 614.0,879.8 622.0,865.9 630.0,864.7 638.0,862.6 646.0,854.5 654.0,859.6 662.0,835.5 670.0,827.6 678.0,826.9 686.0,828.5 694.0,826.8 702.0,820.5 710.0,817.2 718.0,826.0 726.0,821.2 734.0,819.6 742.0,817.1 750.0,814.8 758.0,818.2 766.0,814.3 774.0,814.5 782.0,816.8 790.0,816.0 798.0,811.6 806.0,814.8 814.0,812.6 822.0,815.4 830.0,814.8 838.0,813.3 846.0,830.5 854.0,823.4 862.0,846.5 870.0,850.6 878.0,847.8 886.0,840.6 894.0,838.5 902.0,843.9 910.0,842.6 918.0,838.9 926.0,837.6 934.0,837.3 942.0,832.3 950.0,825.1 958.0,832.8 966.0,839.5 974.0,839.0 982.0,841.3 990.0,842.5 998.0,845.8 1006.0,844.1 1014.0,845.0 1022.0,856.6 1030.0,863.8 1038.0,853.4 1046.0,859.1 1054.0,861.3 1062.0,857.8 1070.0,850.5 1078.0,847.2 1086.0,847.2 1094.0,858.5 1102.0,856.1 1110.0,852.0 1118.0,851.9 1126.0,848.0 1134.0,853.6 1142.0,848.6 1150.0,847.5 1158.0,846.6 1166.0,848.3 1174.0,850.0 1182.0,850.2 1190.0,868.1 1198.0,867.2 1206.0,872.3 1214.0,877.6 1222.0,878.5 1230.0,866.7 1238.0,873.0 1246.0,870.9 1254.0,872.5 1262.0,874.3 1270.0,879.3 1278.0,877.4 1286.0,863.2 1294.0,865.2 1302.0,867.0" fill="none" stroke="#1e90ff" stroke-width="2" shape-rendering="crispEdges"/><text x="-6.5" y="799" font-size="10" fill="#000" textLength="68.2" lengthAdjust="spacingAndGlyphs" xml:space="preserve">RSI(14) 41.8013</text><text x="1652.8" y="797.0" font-size="10" fill="#000" textLength="14.4" lengthAdjust="spacingAndGlyphs" xml:space="preserve">100</text><text x="1652.8" y="819.0" font-size="10" fill="#000" textLength="9.7" lengthAdjust="spacingAndGlyphs" xml:space="preserve">80</text><text x="1652.8" y="859.0" font-size="10" fill="#000" textLength="9.7" lengthAdjust="spacingAndGlyphs" xml:space="preserve">50</text><text x="1652.8" y="906.8" font-size="10" fill="#000" textLength="9.4" lengthAdjust="spacingAndGlyphs" xml:space="preserve">15</text><text x="1652.8" y="920.8" font-size="10" fill="#000" textLength="5.2" lengthAdjust="spacingAndGlyphs" xml:space="preserve">0</text><text x="2.5" y="937" font-size="9.3" fill="#000" textLength="41.2" lengthAdjust="spacingAndGlyphs" xml:space="preserve">May 2022</text><rect x="54" y="925" width="1" height="3" fill="#000"/><text x="53.3" y="937" font-size="9.3" fill="#000" textLength="57.6" lengthAdjust="spacingAndGlyphs" xml:space="preserve">23 May 20:00</text><rect x="118" y="925" width="1" height="3" fill="#000"/><text x="117.3" y="937" font-size="9.3" fill="#000" textLength="57.6" lengthAdjust="spacingAndGlyphs" xml:space="preserve">25 May 04:00</text><rect x="182" y="925" width="1" height="3" fill="#000"/><text x="181.3" y="937" font-size="9.3" fill="#000" textLength="57.6" lengthAdjust="spacingAndGlyphs" xml:space="preserve">26 May 12:00</text><rect x="246" y="925" width="1" height="3" fill="#000"/><text x="245.3" y="937" font-size="9.3" fill="#000" textLength="57.6" lengthAdjust="spacingAndGlyphs" xml:space="preserve">29 May 23:00</text><rect x="310" y="925" width="1" height="3" fill="#000"/><text x="309.3" y="937" font-size="9.3" fill="#000" textLength="57.6" lengthAdjust="spacingAndGlyphs" xml:space="preserve">31 May 04:00</text><rect x="374" y="925" width="1" height="3" fill="#000"/><text x="373.3" y="937" font-size="9.3" fill="#000" textLength="49.7" lengthAdjust="spacingAndGlyphs" xml:space="preserve">1 Jun 12:00</text><rect x="438" y="925" width="1" height="3" fill="#000"/><text x="437.3" y="937" font-size="9.3" fill="#000" textLength="49.7" lengthAdjust="spacingAndGlyphs" xml:space="preserve">2 Jun 20:00</text><rect x="502" y="925" width="1" height="3" fill="#000"/><text x="501.3" y="937" font-size="9.3" fill="#000" textLength="49.7" lengthAdjust="spacingAndGlyphs" xml:space="preserve">6 Jun 04:00</text><rect x="566" y="925" width="1" height="3" fill="#000"/><text x="565.3" y="937" font-size="9.3" fill="#000" textLength="49.7" lengthAdjust="spacingAndGlyphs" xml:space="preserve">7 Jun 12:00</text><rect x="630" y="925" width="1" height="3" fill="#000"/><text x="629.3" y="937" font-size="9.3" fill="#000" textLength="49.7" lengthAdjust="spacingAndGlyphs" xml:space="preserve">8 Jun 20:00</text><rect x="694" y="925" width="1" height="3" fill="#000"/><text x="693.3" y="937" font-size="9.3" fill="#000" textLength="54.9" lengthAdjust="spacingAndGlyphs" xml:space="preserve">10 Jun 04:00</text><rect x="758" y="925" width="1" height="3" fill="#000"/><text x="757.3" y="937" font-size="9.3" fill="#000" textLength="54.9" lengthAdjust="spacingAndGlyphs" xml:space="preserve">13 Jun 12:00</text><rect x="822" y="925" width="1" height="3" fill="#000"/><text x="821.3" y="937" font-size="9.3" fill="#000" textLength="54.9" lengthAdjust="spacingAndGlyphs" xml:space="preserve">14 Jun 20:00</text><rect x="886" y="925" width="1" height="3" fill="#000"/><text x="885.3" y="937" font-size="9.3" fill="#000" textLength="54.9" lengthAdjust="spacingAndGlyphs" xml:space="preserve">16 Jun 04:00</text><rect x="950" y="925" width="1" height="3" fill="#000"/><text x="949.3" y="937" font-size="9.3" fill="#000" textLength="54.9" lengthAdjust="spacingAndGlyphs" xml:space="preserve">17 Jun 12:00</text><rect x="1014" y="925" width="1" height="3" fill="#000"/><text x="1013.3" y="937" font-size="9.3" fill="#000" textLength="54.9" lengthAdjust="spacingAndGlyphs" xml:space="preserve">20 Jun 20:00</text><rect x="1078" y="925" width="1" height="3" fill="#000"/><text x="1077.3" y="937" font-size="9.3" fill="#000" textLength="54.9" lengthAdjust="spacingAndGlyphs" xml:space="preserve">22 Jun 04:00</text><rect x="1142" y="925" width="1" height="3" fill="#000"/><text x="1141.3" y="937" font-size="9.3" fill="#000" textLength="54.9" lengthAdjust="spacingAndGlyphs" xml:space="preserve">23 Jun 12:00</text><rect x="1206" y="925" width="1" height="3" fill="#000"/><text x="1205.3" y="937" font-size="9.3" fill="#000" textLength="54.9" lengthAdjust="spacingAndGlyphs" xml:space="preserve">26 Jun 23:00</text><rect x="1270" y="925" width="1" height="3" fill="#000"/><text x="1269.3" y="937" font-size="9.3" fill="#000" textLength="54.9" lengthAdjust="spacingAndGlyphs" xml:space="preserve">28 Jun 04:00</text></svg></body></html>
